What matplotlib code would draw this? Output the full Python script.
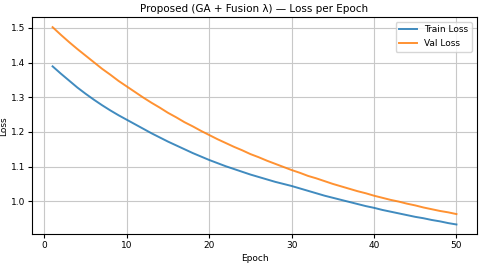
import matplotlib
matplotlib.use("Agg")
import matplotlib.pyplot as plt

epochs = list(range(1, 51))
train_loss = [1.389, 1.368, 1.348, 1.328, 1.310, 1.293, 1.277, 1.262, 1.248, 1.235,
              1.222, 1.209, 1.196, 1.184, 1.172, 1.161, 1.150, 1.139, 1.129, 1.119,
              1.110, 1.101, 1.093, 1.085, 1.077, 1.070, 1.063, 1.056, 1.050, 1.044,
              1.037, 1.030, 1.023, 1.016, 1.010, 1.004, 0.998, 0.992, 0.986, 0.981,
              0.975, 0.970, 0.965, 0.960, 0.955, 0.951, 0.946, 0.942, 0.937, 0.933]
val_loss = [1.502, 1.480, 1.459, 1.439, 1.420, 1.401, 1.382, 1.365, 1.347, 1.331,
            1.315, 1.299, 1.284, 1.270, 1.255, 1.242, 1.228, 1.216, 1.203, 1.191,
            1.179, 1.168, 1.157, 1.147, 1.136, 1.127, 1.117, 1.108, 1.099, 1.090,
            1.082, 1.073, 1.066, 1.058, 1.050, 1.043, 1.036, 1.029, 1.023, 1.016,
            1.010, 1.004, 0.999, 0.993, 0.988, 0.982, 0.977, 0.972, 0.968, 0.963]

fig = plt.figure(figsize=(4.8, 2.66), dpi=100)
ax = fig.add_axes([0.0675, 0.119, 0.9255, 0.816])
ax.plot(epochs, train_loss, color="#1f77b4", lw=1.4, label="Train Loss", alpha=0.85)
ax.plot(epochs, val_loss, color="#ff7f0e", lw=1.4, label="Val Loss", alpha=0.85)
ax.set_title("Proposed (GA + Fusion λ) — Loss per Epoch", fontsize=7.5, pad=4)
ax.set_xlabel("Epoch", fontsize=6.5, labelpad=3)
ax.set_ylabel("Loss", fontsize=6.5, labelpad=2)
ax.tick_params(labelsize=6.5, length=3, pad=2)
ax.grid(True, color="#c8c8c8", lw=0.8)
ax.legend(fontsize=6.5, loc="upper right", framealpha=0.8)
fig.savefig("out.png", dpi=100)
